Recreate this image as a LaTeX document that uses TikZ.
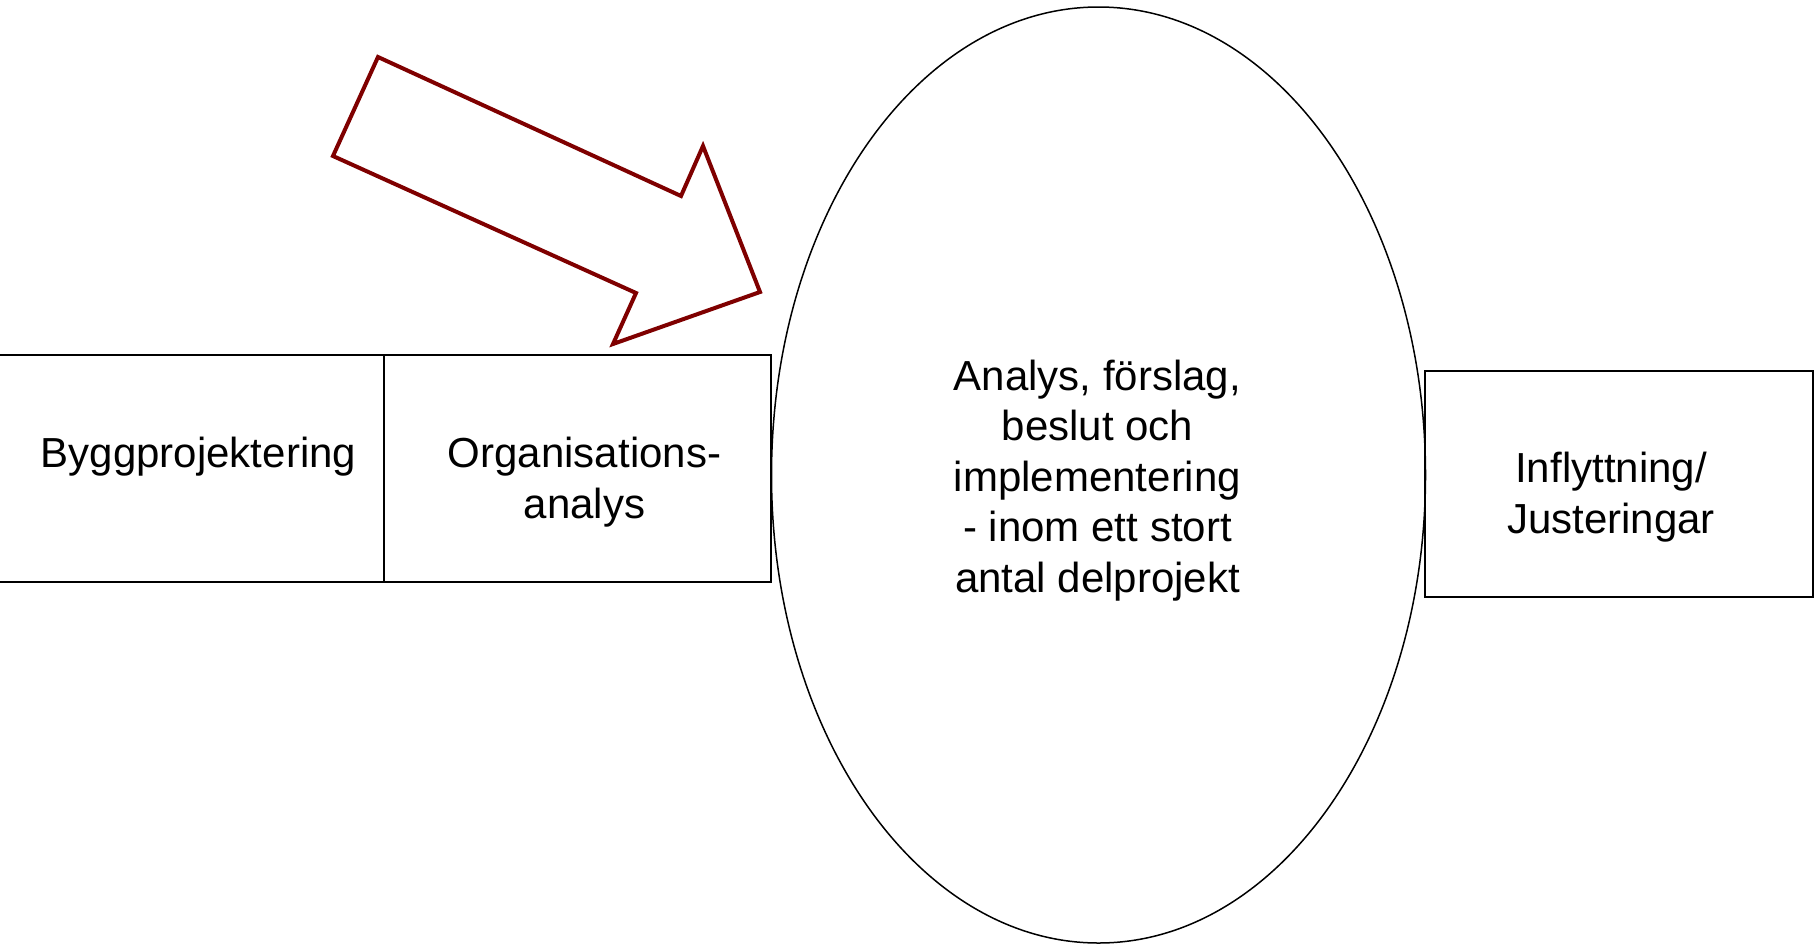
\documentclass[tikz,border=0pt]{standalone}
\usepackage{fontspec}
\setmainfont{Liberation Sans}
\usetikzlibrary{shapes.geometric}
\definecolor{arrowred}{HTML}{7F0000}
\begin{document}
\begin{tikzpicture}[x=1pt,y=-1pt,
  boxnode/.style={draw=black,line width=1.5pt,rectangle,inner sep=0pt},
  lbl/.style={font=\fontsize{42}{50.5}\selectfont,align=center,inner sep=0pt,anchor=base},
  bigarrow/.style={draw=arrowred,line width=4pt,fill=white,line join=miter}]
\useasboundingbox (0,0) rectangle (1819,943);
% boxes
\node[boxnode,minimum width=386pt,minimum height=227pt] (bygg) at (191,468.5) {};
\node[boxnode,minimum width=387pt,minimum height=227pt] (org) at (577.5,468.5) {};
\node[draw=black,line width=1.5pt,ellipse,inner sep=0pt,minimum width=654pt,minimum height=936pt] (ana) at (1098.5,475) {};
\node[boxnode,minimum width=388pt,minimum height=226pt] (infl) at (1619,484) {};
% labels (base anchor = baseline of last line)
\node[lbl] (byggtxt) at (198.5,467) {Byggprojektering};
\node[lbl] (orgtxt) at (584.5,518) {Organisations-\\analys};
\node[lbl] (anatxt) at (1097.5,592) {Analys, förslag,\\beslut och\\implementering\\- inom ett stort\\antal delprojekt};
\node[lbl] (infltxt) at (1611,533) {Inflyttning/\\Justeringar};
% block arrow
\draw[bigarrow] (378,57) -- (333,156) -- (636,293) -- (613,344) -- (760,292) -- (703,146) -- (681,196) -- cycle;
\end{tikzpicture}
\end{document}
